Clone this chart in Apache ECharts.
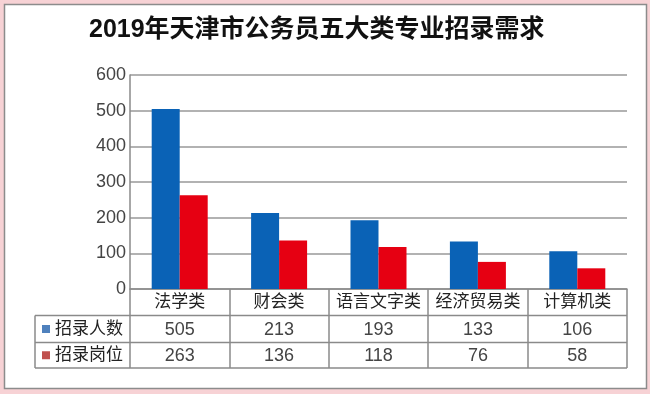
<!DOCTYPE html>
<html><head><meta charset="utf-8">
<script src="https://cdn.jsdelivr.net/npm/echarts@6/dist/echarts.min.js"></script>
<style>html,body{margin:0;padding:0;background:#f7d2d5;}#c{width:650px;height:394px;}</style>
</head><body><div id="c"></div>
<script>
const titleText = '2019年天津市公务员五大类专业招录需求';
const categories = ['法学类', '财会类', '语言文字类', '经济贸易类', '计算机类'];
const seriesNames = ['招录人数', '招录岗位'];
const recruits = [505, 213, 193, 133, 106];
const posts = [263, 136, 118, 76, 58];
const yTicks = [0, 100, 200, 300, 400, 500, 600];

const FONT = "'Liberation Sans', 'Noto Sans CJK SC', sans-serif";
const barColors = ['#0a62b6', '#e60012'];
const legendColors = ['#4f81bd', '#c0504d'];
const GRID = {left: 130, right: 23, top: 75, bottom: 105};

const chart = echarts.init(document.getElementById('c'));
const option = {
  backgroundColor: '#f7d2d5',
  animation: false,
  grid: GRID,
  xAxis: {
    type: 'category', data: categories,
    axisLine: {show: true, lineStyle: {color: '#8a8a8a', width: 1.5}},
    axisTick: {show: true, interval: 0, length: 79, lineStyle: {color: '#8a8a8a', width: 1.5}},
    axisLabel: {interval: 0, margin: 5, fontSize: 17, color: '#222', fontFamily: FONT}
  },
  yAxis: {
    type: 'value', min: yTicks[0], max: yTicks[yTicks.length - 1], interval: 100,
    axisLine: {show: true, lineStyle: {color: '#8a8a8a', width: 1.5}},
    axisTick: {show: false},
    axisLabel: {margin: 4, fontSize: 18, color: '#444', fontFamily: FONT},
    splitLine: {lineStyle: {color: '#999', width: 1.5}}
  },
  series: [
    {name: seriesNames[0], type: 'bar', data: recruits, barWidth: 28, barGap: '0%', itemStyle: {color: barColors[0]}},
    {name: seriesNames[1], type: 'bar', data: posts, barWidth: 28, barGap: '0%', itemStyle: {color: barColors[1]}}
  ]
};
chart.setOption(option);

// Build frame, title and data table
const x0 = chart.convertToPixel({xAxisIndex: 0}, categories[0]);
const step = chart.convertToPixel({xAxisIndex: 0}, categories[1]) - x0;
const leftEdge = x0 - step / 2;
const rightEdge = leftEdge + step * categories.length;
const axisY = chart.convertToPixel({yAxisIndex: 0}, 0);
const rowLines = [axisY + 26.5, axisY + 53.5, axisY + 79];
const tableLeft = 35;
const rows = [recruits, posts];

const g = [];
g.push({type: 'rect', z: -10, shape: {x: 4.5, y: 4.5, width: 642, height: 384}, style: {fill: '#fff', stroke: '#8c8c8c', lineWidth: 1.5}});
g.push({type: 'text', left: 89, top: 18, style: {text: titleText, font: 'bold 25px ' + FONT, fill: '#111'}});
rowLines.forEach(y => g.push({type: 'line', shape: {x1: tableLeft, y1: y, x2: rightEdge, y2: y}, style: {stroke: '#8a8a8a', lineWidth: 1.5}}));
g.push({type: 'line', shape: {x1: tableLeft, y1: rowLines[0], x2: tableLeft, y2: rowLines[2]}, style: {stroke: '#8a8a8a', lineWidth: 1.5}});
rows.forEach((vals, r) => {
  const yc = (rowLines[r] + rowLines[r + 1]) / 2;
  g.push({type: 'rect', shape: {x: 42, y: yc - 4, width: 8, height: 8}, style: {fill: legendColors[r]}});
  g.push({type: 'text', x: 55, y: yc, style: {text: seriesNames[r], font: '17px ' + FONT, fill: '#222', verticalAlign: 'middle', align: 'left'}});
  vals.forEach((v, i) => {
    const xc = chart.convertToPixel({xAxisIndex: 0}, categories[i]);
    g.push({type: 'text', x: xc, y: yc + 1, style: {text: String(v), font: '18px ' + FONT, fill: '#444', align: 'center', verticalAlign: 'middle'}});
  });
});
chart.setOption({graphic: g});
</script></body></html>
